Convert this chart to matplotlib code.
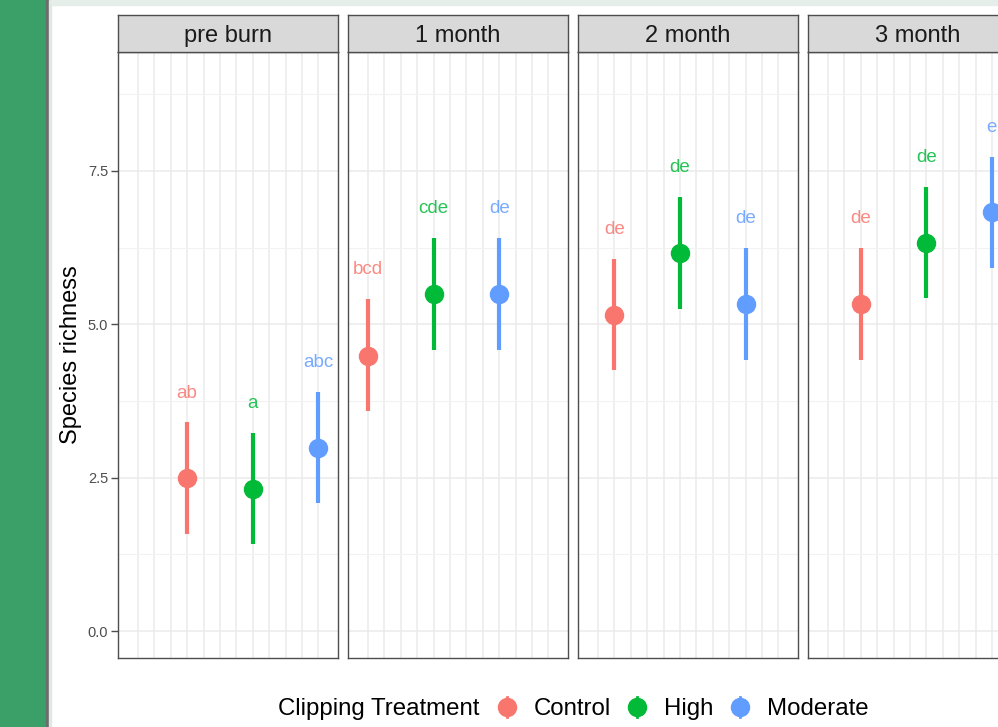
import matplotlib
matplotlib.use("Agg")
import matplotlib.pyplot as plt
from matplotlib.patches import Rectangle
from matplotlib.lines import Line2D

plt.rcParams['font.family'] = ['Liberation Sans', 'DejaVu Sans']

# data
facets = ['pre burn', '1 month', '2 month', '3 month']
treatments = ['Control', 'High', 'Moderate']
colors = ['#F8766D', '#00BA38', '#619CFF']
x_pos = [[4, 8, 12], [1, 5, 9], [2, 6, 10], [3, 7, 11]]
means = [[2.50, 2.32, 2.98], [4.48, 5.49, 5.49], [5.15, 6.16, 5.33], [5.33, 6.33, 6.83]]
upper = [[3.40, 3.23, 3.90], [5.41, 6.41, 6.41], [6.07, 7.08, 6.24], [6.24, 7.24, 7.73]]
lower = [[1.58, 1.42, 2.09], [3.59, 4.58, 4.58], [4.26, 5.25, 4.42], [4.42, 5.43, 5.92]]
letters = [['ab', 'a', 'abc'], ['bcd', 'cde', 'de'], ['de', 'de', 'de'], ['de', 'de', 'e']]
y_ticks = [0.0, 2.5, 5.0, 7.5]

W, H = 998, 727
fig = plt.figure(figsize=(W / 100, H / 100), dpi=100, facecolor='white')

def fbox(x0, y0, x1, y1):
    # pixel box (top-left origin) -> figure fraction rect
    return [x0 / W, 1 - y1 / H, (x1 - x0) / W, (y1 - y0) / H]

# screenshot surroundings
fig.patches.append(Rectangle((0, 0), 46 / W, 1, transform=fig.transFigure, color='#3aa068', zorder=0))
fig.patches.append(Rectangle((46 / W, 0), 3 / W, 1, transform=fig.transFigure, color='#6d6d6d', zorder=0))
fig.patches.append(Rectangle((49 / W, 0), 2 / W, 1, transform=fig.transFigure, color='#dfe8e3', zorder=0))
fig.patches.append(Rectangle((51 / W, 1 - 5 / H), 1, 5 / H, transform=fig.transFigure, color='#e5eee9', zorder=0))

border = '#4d4d4d'
for i, name in enumerate(facets):
    left = 118 + 230 * i
    ax = fig.add_axes(fbox(left, 52, left + 220, 658))
    ax.set_xlim(-0.22, 13.2)
    ax.set_ylim(-0.44, 9.44)
    for g in range(1, 13):
        ax.axvline(g, color='#ebebeb', lw=1.1, zorder=0)
    for yv in [0, 2.5, 5, 7.5]:
        ax.axhline(yv, color='#ebebeb', lw=1.1, zorder=0)
    for yv in [1.25, 3.75, 6.25, 8.75]:
        ax.axhline(yv, color='#f2f2f2', lw=0.8, zorder=0)
    for j in range(3):
        xx = x_pos[i][j]
        ax.plot([xx, xx], [lower[i][j], upper[i][j]], color=colors[j], lw=3.0,
                solid_capstyle='butt', zorder=2)
        ax.plot(xx, means[i][j], 'o', color=colors[j], ms=13, zorder=3)
        ax.text(xx, upper[i][j] + 0.48, letters[i][j], color=colors[j], alpha=0.85,
                ha='center', va='center', fontsize=13.5)
    ax.set_xticks([])
    for sp in ax.spines.values():
        sp.set_color(border)
        sp.set_linewidth(1.0)
    if i == 0:
        ax.set_yticks(y_ticks)
        ax.set_yticklabels(['%.1f' % v for v in y_ticks], fontsize=10.5, color='#4d4d4d')
        ax.tick_params(axis='y', length=5, width=1, color=border, pad=2)
    else:
        ax.set_yticks([])

    sax = fig.add_axes(fbox(left, 15, left + 220, 52))
    sax.set_facecolor('#d9d9d9')
    sax.set_xticks([])
    sax.set_yticks([])
    for sp in sax.spines.values():
        sp.set_color(border)
        sp.set_linewidth(1.0)
    sax.text(0.5, 0.43, name, ha='center', va='center', fontsize=17, color='#1a1a1a',
             transform=sax.transAxes)

# axis title and legend drawn in pixel space
lax = fig.add_axes([0, 0, 1, 1], facecolor='none')
lax.set_xlim(0, W)
lax.set_ylim(H, 0)
lax.axis('off')
lax.text(71, 355, 'Species richness', fontsize=17, rotation=90, ha='center', va='center')
lax.text(278, 709, 'Clipping Treatment', fontsize=17.3, ha='left', va='center')
leg_x = [507, 637, 740]
for j, t in enumerate(treatments):
    lax.add_line(Line2D([leg_x[j], leg_x[j]], [697, 717], color=colors[j], lw=2))
    lax.plot(leg_x[j], 707, 'o', color=colors[j], ms=13)
    lax.text(leg_x[j] + 27, 709, t, fontsize=17.3, ha='left', va='center')

fig.savefig('out.png', dpi=100, facecolor='white')
